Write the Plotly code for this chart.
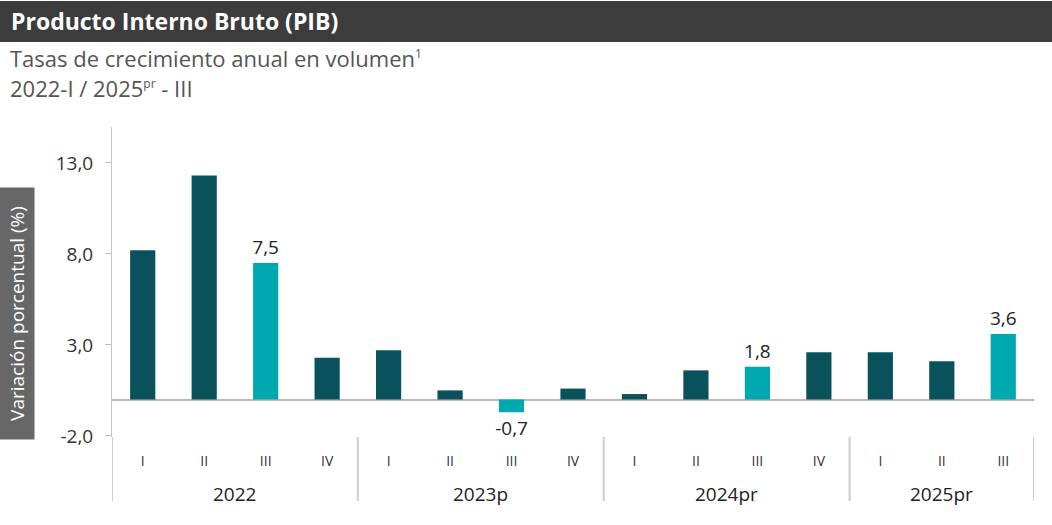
import plotly.graph_objects as go

years = ["2022", "2022", "2022", "2022",
         "2023p", "2023p", "2023p", "2023p",
         "2024pr", "2024pr", "2024pr", "2024pr",
         "2025pr", "2025pr", "2025pr"]
quarters = ["I", "II", "III", "IV", "I", "II", "III", "IV",
            "I", "II", "III", "IV", "I", "II", "III"]
values = [8.2, 12.3, 7.5, 2.3, 2.7, 0.5, -0.7, 0.6,
          0.3, 1.6, 1.8, 2.6, 2.6, 2.1, 3.6]
y_ticks = [-2.0, 3.0, 8.0, 13.0]

DARK = "#0A525B"
LIGHT = "#00A9AF"
FONT = "Open Sans"

keys = [f"{y}-{q}" for y, q in zip(years, quarters)]
dark_x = [k for k, q in zip(keys, quarters) if q != "III"]
dark_y = [v for v, q in zip(values, quarters) if q != "III"]
light_x = [k for k, q in zip(keys, quarters) if q == "III"]
light_y = [v for v, q in zip(values, quarters) if q == "III"]
light_txt = [f"{v:.1f}".replace(".", ",") for v in light_y]

fig = go.Figure()
fig.add_trace(go.Bar(x=dark_x, y=dark_y, marker=dict(color=DARK, line=dict(width=0))))
fig.add_trace(go.Bar(
    x=light_x, y=light_y, marker=dict(color=LIGHT, line=dict(width=0)),
    text=light_txt, textposition="outside", cliponaxis=False, constraintext="none",
    textfont=dict(family=FONT, size=19, color="#222222"),
))

W, H = 1052, 525
L, R, T, B = 112, 18, 127, 88
pw, ph = W - L - R, H - T - B

def px_x(px):
    return (px - L) / pw

def px_y(py):
    return (H - B - py) / ph

fig.update_layout(
    width=W, height=H,
    margin=dict(l=L, r=R, t=T, b=B),
    paper_bgcolor="white", plot_bgcolor="white",
    font=dict(family=FONT, color="#333333"),
    showlegend=False, bargap=0.59, barmode="overlay",
)

fig.update_xaxes(
    type="category", categoryorder="array", categoryarray=keys,
    tickvals=keys, ticktext=quarters,
    tickfont=dict(family=FONT, size=14, color="#333333"),
    ticks="outside", ticklen=11, tickcolor="rgba(0,0,0,0)",
    showgrid=False, showline=False, zeroline=False,
    range=[-0.5, len(keys) - 0.5],
)
fig.update_yaxes(
    range=[-2.06, 14.97],
    tickvals=y_ticks, ticktext=[f"{v:.1f}".replace(".", ",") for v in y_ticks],
    tickfont=dict(family=FONT, size=19, color="#333333"),
    ticks="outside", ticklen=6, tickcolor="#bdbdbd", ticklabelstandoff=8,
    showgrid=False, showline=True, linecolor="#c4c4c4", linewidth=1,
    zeroline=True, zerolinecolor="#b8b8b8", zerolinewidth=1.5,
)

# group dividers and year labels
groups = []
for i, y in enumerate(years):
    if not groups or groups[-1][0] != y:
        groups.append([y, i, i])
    else:
        groups[-1][2] = i

bounds = [g[1] - 0.5 for g in groups] + [groups[-1][2] + 0.5]
for b in bounds:
    fig.add_shape(type="line", xref="x", yref="paper", x0=b, x1=b,
                  y0=0, y1=px_y(501), line=dict(color="#cccccc", width=2))

for name, i0, i1 in groups:
    fig.add_annotation(x=(i0 + i1) / 2, xref="x", y=0, yref="paper",
                       yanchor="middle", yshift=-57, showarrow=False,
                       text=name, font=dict(family=FONT, size=19, color="#222222"))

# title bar
fig.add_shape(type="rect", xref="paper", yref="paper",
              x0=px_x(0), x1=px_x(W), y0=px_y(42), y1=px_y(1),
              fillcolor="#3c3c3c", line=dict(width=0), layer="below")
fig.add_annotation(xref="paper", yref="paper", x=px_x(9), y=px_y(21),
                   xanchor="left", yanchor="middle", showarrow=False,
                   text="<b>Producto Interno Bruto (PIB)</b>",
                   font=dict(family=FONT, size=23, color="white"))
fig.add_annotation(xref="paper", yref="paper", x=px_x(8), y=px_y(58),
                   xanchor="left", yanchor="middle", showarrow=False,
                   text="Tasas de crecimiento anual en volumen<sup><span style='font-size:12px'>1</span></sup>",
                   font=dict(family=FONT, size=22, color="#555555"))
fig.add_annotation(xref="paper", yref="paper", x=px_x(8), y=px_y(88),
                   xanchor="left", yanchor="middle", showarrow=False,
                   text="2022-I / 2025<sup><span style='font-size:12px'>pr</span></sup> - III",
                   font=dict(family=FONT, size=22, color="#555555"))

# y-axis title box
fig.add_annotation(xref="paper", yref="paper", x=px_x(17), y=px_y(314),
                   xanchor="center", yanchor="middle", showarrow=False,
                   text="Variación porcentual (%)", textangle=-90,
                   width=243, height=26, borderpad=4, bgcolor="#676767",
                   font=dict(family=FONT, size=19, color="white"))

fig.write_html("out.html", config={"displayModeBar": False},
               post_script="document.body.style.margin='0';document.body.style.overflow='hidden';")
